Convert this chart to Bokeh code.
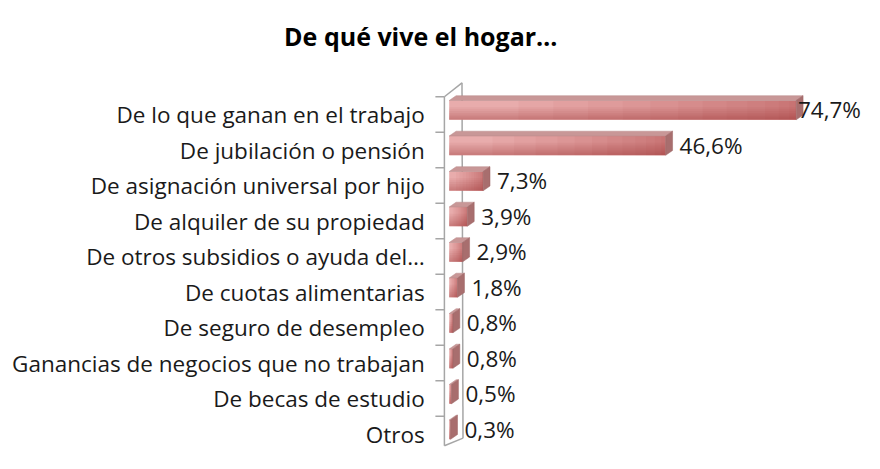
from bokeh.plotting import figure
from bokeh.models import Range1d, ColumnDataSource
from bokeh.embed import file_html
from bokeh.resources import INLINE
from bokeh.core.properties import value

# ---------------- data ----------------
title_text = "De qué vive el hogar…"
categories = [
    "De lo que ganan en el trabajo",
    "De jubilación o pensión",
    "De asignación universal por hijo",
    "De alquiler de su propiedad",
    "De otros subsidios o ayuda del…",
    "De cuotas alimentarias",
    "De seguro de desempleo",
    "Ganancias de negocios que no trabajan",
    "De becas de estudio",
    "Otros",
]
values = [74.7, 46.6, 7.3, 3.9, 2.9, 1.8, 0.8, 0.8, 0.5, 0.3]
value_labels = ["74,7%", "46,6%", "7,3%", "3,9%", "2,9%", "1,8%", "0,8%", "0,8%", "0,5%", "0,3%"]

# ---------------- layout (pixels) ----------------
W, H = 864, 453
PX_X = 4.645     # pixels per percent
PX_Y = 35.5      # pixels per category band
X0_PX = 448.7    # canvas x of 0 %
Y0_PX = 114.0    # canvas y of the first band centre

def ux(px):
    return px / PX_X

def uy(px):
    return px / PX_Y

FONT = "Open Sans"
FS = "22.5px"

p = figure(width=W, height=H,
           x_range=Range1d(-X0_PX / PX_X, (W - X0_PX) / PX_X),
           y_range=Range1d((H - Y0_PX) / PX_Y, -Y0_PX / PX_Y),
           output_backend="svg", toolbar_location=None,
           x_axis_location=None, y_axis_location=None, min_border=0)
p.grid.visible = False
p.outline_line_color = None
p.background_fill_color = "white"
p.border_fill_color = "white"

n = len(categories)
idx = list(range(n))

# ---------------- 3-D wall ----------------
WALL = "#a6a6a6"
fx = -ux(4.8)               # front edge of the wall
f_top, f_bot = -0.5, n - 0.5 - uy(6)
b_top_dx, b_top_dy = ux(17.6), uy(13.9)
b_bot_dx, b_bot_dy = ux(18.6), uy(7.6)
p.line([fx + b_top_dx, fx + b_bot_dx], [f_top - b_top_dy, f_bot - b_bot_dy], line_color=WALL, line_width=1.5)
p.line([fx, fx + b_top_dx], [f_top, f_top - b_top_dy], line_color=WALL, line_width=1.5)
p.line([fx, fx + b_bot_dx], [f_bot, f_bot - b_bot_dy], line_color=WALL, line_width=1.5)
p.line([fx, fx], [f_top, f_bot], line_color=WALL, line_width=1.5)
tick_y = [i - 0.5 for i in idx]
p.segment(x0=[fx - ux(9)] * n, x1=[fx] * n, y0=tick_y, y1=tick_y, line_color=WALL, line_width=1.5)

# ---------------- 3-D bars ----------------
LIGHT = "#e8acac"
DARK = "#9a2626"
TOPC = "#c89797"
SIDEC = "#a86e6e"
DX, DY = ux(6.9), uy(4.8)
tops = [i - uy(14) for i in idx]
bots = [i + uy(5.3) for i in idx]

# front faces
p.quad(left=[0] * n, right=values, top=tops, bottom=bots, fill_color=LIGHT, line_color=None)
# gradient toward the right end
for f in [0.2, 0.3, 0.4, 0.5, 0.58, 0.66, 0.73, 0.8, 0.86, 0.91, 0.95, 0.98]:
    p.quad(left=[v * f for v in values], right=values, top=tops, bottom=bots,
           fill_color=DARK, fill_alpha=0.045, line_color=None)
# gradient toward the bottom
for f in [0.35, 0.45, 0.55, 0.65, 0.74, 0.82, 0.9]:
    p.quad(left=[0] * n, right=values, top=[t + f * (b - t) for t, b in zip(tops, bots)], bottom=bots,
           fill_color=DARK, fill_alpha=0.055, line_color=None)

top_xs = [[0, v, v + DX, DX] for v in values]
top_ys = [[t, t, t - DY, t - DY] for t in tops]
p.patches(top_xs, top_ys, fill_color=TOPC, line_color="#b88888", line_width=0.5)
side_xs = [[v, v + DX, v + DX, v] for v in values]
side_ys = [[t, t - DY, b - DY, b] for t, b in zip(tops, bots)]
p.patches(side_xs, side_ys, fill_color=SIDEC, line_color="#9a6262", line_width=0.5)

# ---------------- texts ----------------
cat_src = ColumnDataSource(dict(x=[fx - ux(19.7)] * n, y=idx, text=categories))
p.text(x="x", y="y", text="text", source=cat_src, text_align="right", text_baseline="middle",
       text_font=value(FONT), text_font_size=FS, text_color="#1a1a1a")

x_max_label = ux(797.4 - X0_PX)
lab_x = [min(v + DX + ux(7), x_max_label) for v in values]
lab_y = [i - uy(4.8) for i in idx]
val_src = ColumnDataSource(dict(x=lab_x, y=lab_y, text=value_labels))
p.text(x="x", y="y", text="text", source=val_src, text_align="left", text_baseline="middle",
       text_font=value(FONT), text_font_size=FS, text_color="#1a1a1a")

p.text(x=[ux(420.3 - X0_PX)], y=[uy(35.5 - Y0_PX)], text=[title_text], text_align="center",
       text_baseline="alphabetic", text_font=value(FONT), text_font_size="25px",
       text_font_style="bold", text_color="#000000")

with open("out.html", "w", encoding="utf-8") as fh:
    fh.write(file_html(p, INLINE))
